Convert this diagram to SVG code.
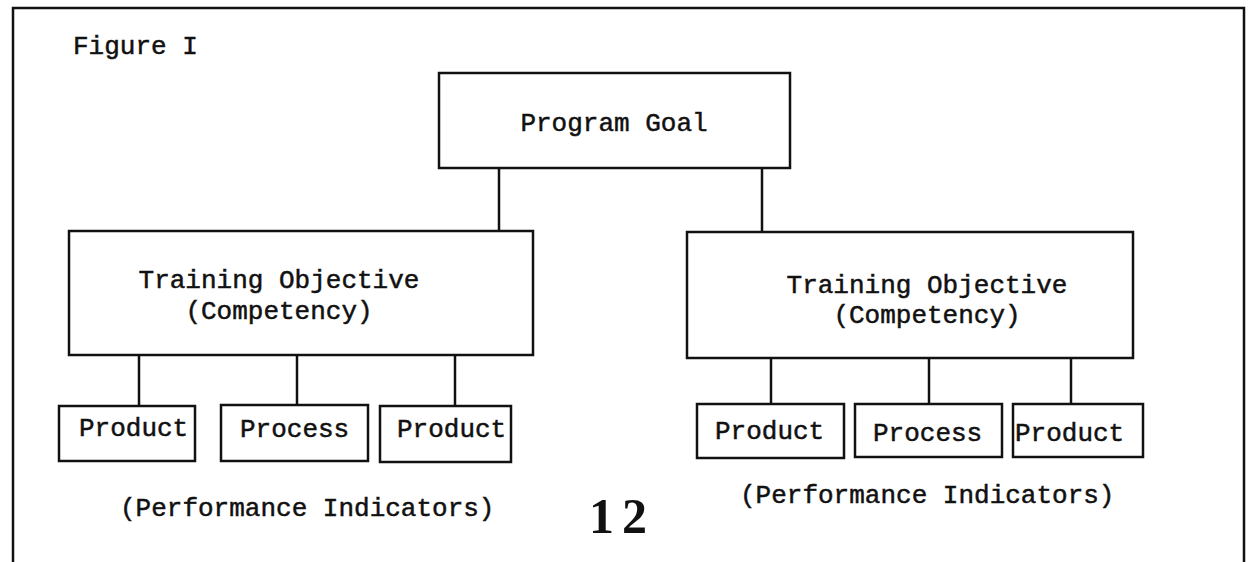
<svg xmlns="http://www.w3.org/2000/svg" width="1248" height="562" viewBox="0 0 1248 562">
<style>
.box{fill:#fff;stroke:#111;stroke-width:2.5}
.ln{stroke:#111;stroke-width:2.5;fill:none}
.t{font-family:"Liberation Mono","Courier New",monospace;font-size:26px;fill:#111;stroke:#111;stroke-width:0.5}
.c{text-anchor:middle}
.num{font-family:"Liberation Serif","Times New Roman",serif;font-size:50px;font-weight:bold;fill:#111}
</style>
<rect width="1248" height="562" fill="#fff"/>
<g id="frame">
<path class="ln" d="M13,562 L13,8 L1244,8 L1244,562"/>
<text class="t" x="73" y="54">Figure I</text>
</g>
<g id="connectors">
<line class="ln" x1="499" y1="168" x2="499" y2="231"/>
<line class="ln" x1="762" y1="168" x2="762" y2="232"/>
<line class="ln" x1="139" y1="355" x2="139" y2="406"/>
<line class="ln" x1="297" y1="355" x2="297" y2="405"/>
<line class="ln" x1="455" y1="355" x2="455" y2="406"/>
<line class="ln" x1="771" y1="357" x2="771" y2="404"/>
<line class="ln" x1="929" y1="357" x2="929" y2="404"/>
<line class="ln" x1="1071" y1="357" x2="1071" y2="404"/>
</g>
<g id="program-goal">
<rect class="box" x="439" y="73" width="351" height="95"/>
<text class="t c" x="614" y="131">Program Goal</text>
</g>
<g id="objective-left">
<rect class="box" x="69" y="231" width="464" height="124"/>
<text class="t c" x="279" y="288">Training Objective</text>
<text class="t c" x="279" y="319">(Competency)</text>
</g>
<g id="objective-right">
<rect class="box" x="687" y="232" width="446" height="126"/>
<text class="t c" x="927" y="293">Training Objective</text>
<text class="t c" x="927" y="323">(Competency)</text>
</g>
<g id="left-product-1">
<rect class="box" x="59" y="406" width="136" height="55"/>
<text class="t" x="79" y="436">Product</text>
</g>
<g id="left-process">
<rect class="box" x="221" y="405" width="147" height="56"/>
<text class="t" x="240" y="437">Process</text>
</g>
<g id="left-product-2">
<rect class="box" x="380" y="406" width="131" height="56"/>
<text class="t" x="397" y="437">Product</text>
</g>
<g id="right-product-1">
<rect class="box" x="697" y="404" width="147" height="54"/>
<text class="t" x="715" y="439">Product</text>
</g>
<g id="right-process">
<rect class="box" x="855" y="404" width="147" height="53"/>
<text class="t" x="873" y="441">Process</text>
</g>
<g id="right-product-2">
<rect class="box" x="1013" y="404" width="130" height="53"/>
<text class="t" x="1015" y="441">Product</text>
</g>
<g id="labels">
<text class="t" x="120" y="516">(Performance Indicators)</text>
<text class="t" x="740" y="503">(Performance Indicators)</text>
<text class="num" x="589" y="533" letter-spacing="8">12</text>
</g>
</svg>
